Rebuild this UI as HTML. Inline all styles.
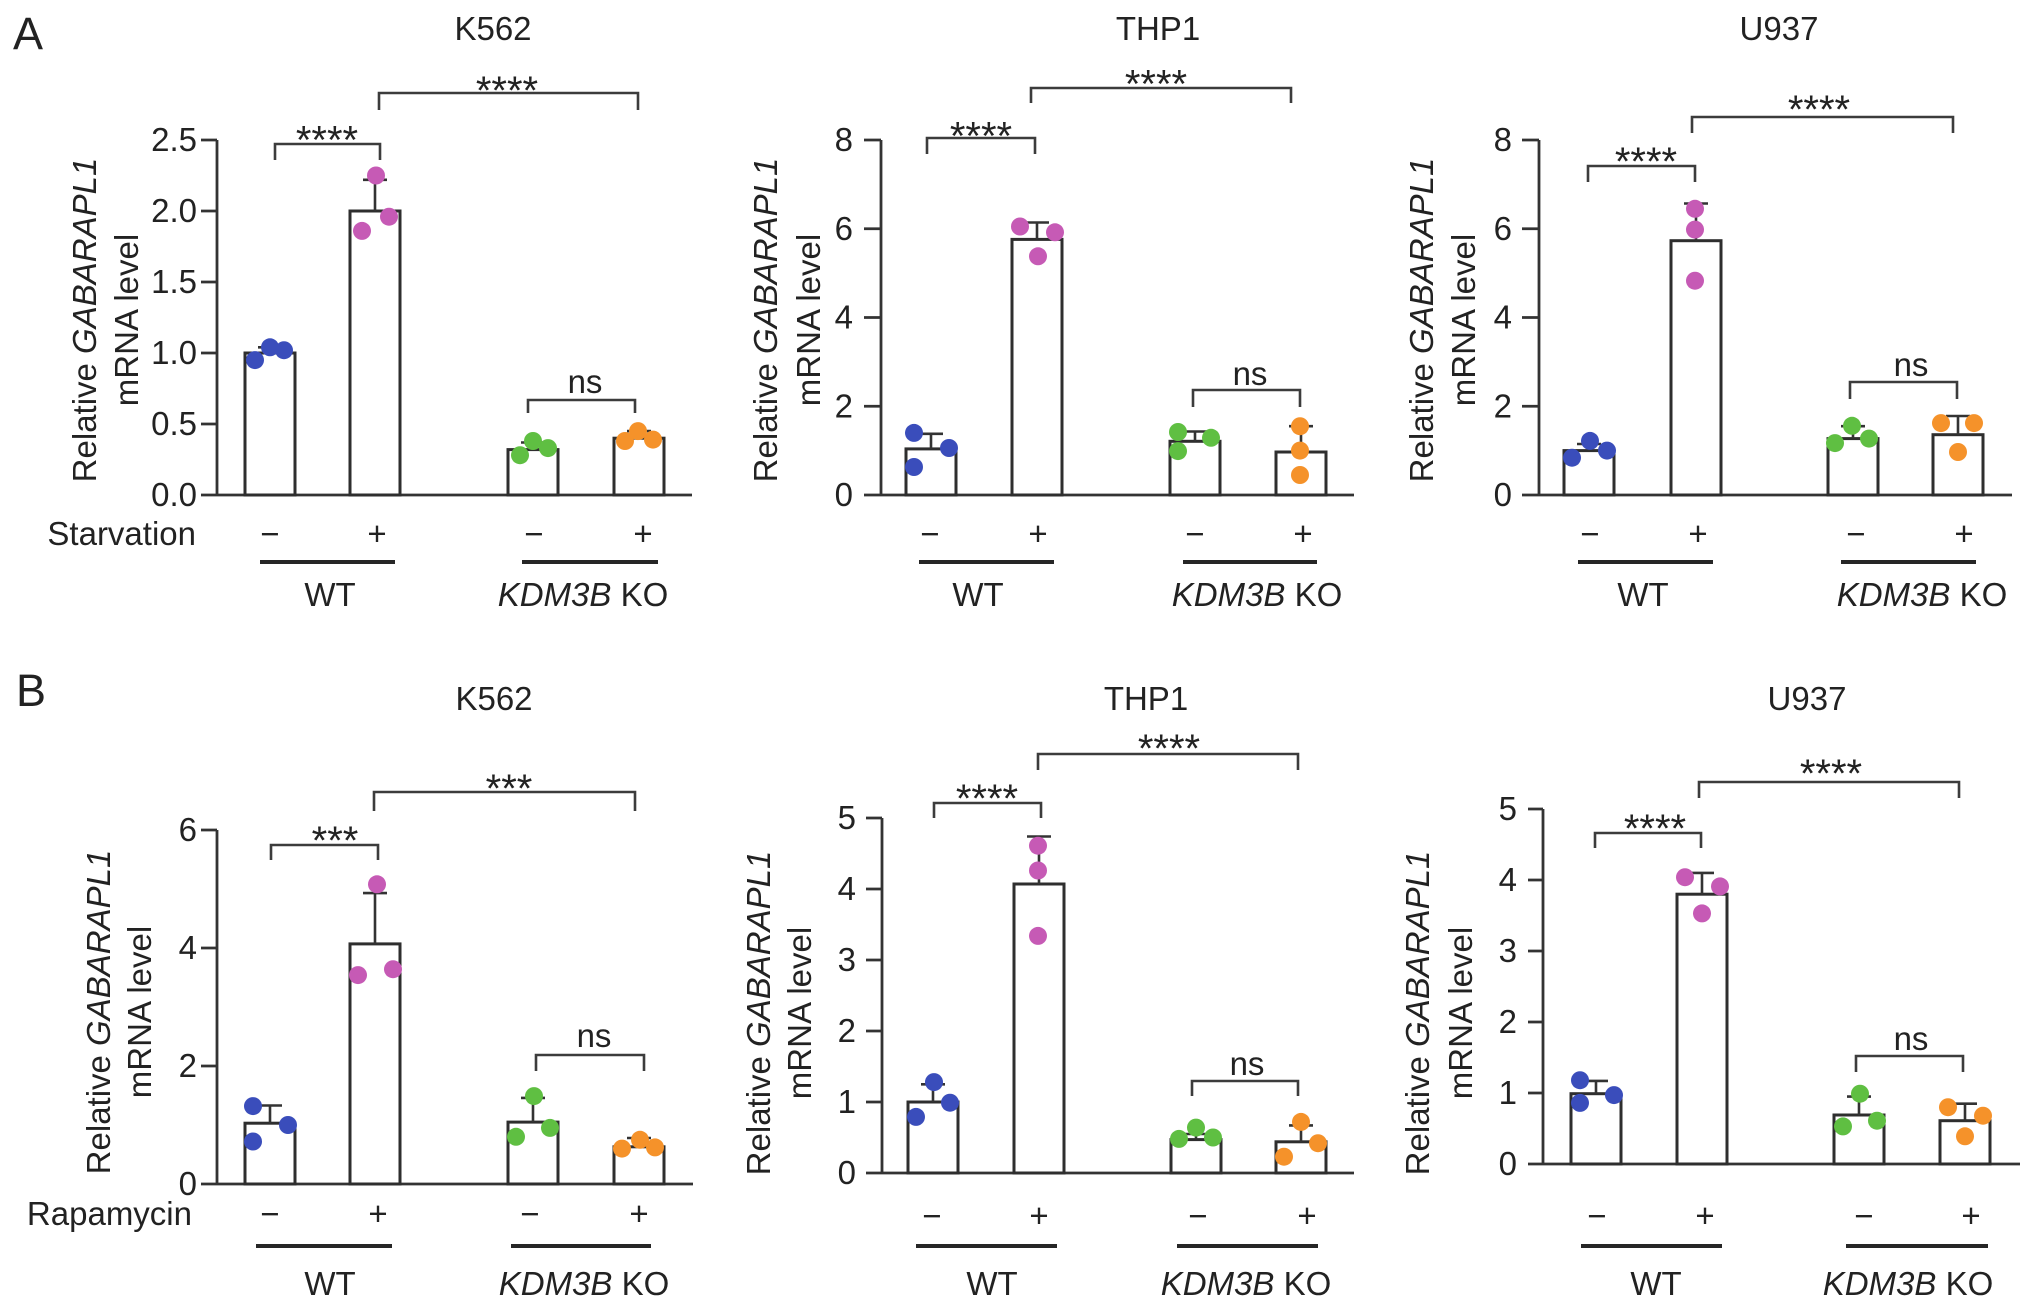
<!DOCTYPE html>
<html><head><meta charset="utf-8"><style>
html,body{margin:0;padding:0;background:#fff;}
svg{display:block;}
text{font-family:"Liberation Sans",Arial,sans-serif;fill:#222;font-size:33px;}
.t{text-anchor:end}
.m{text-anchor:middle}
.st{font-size:40px;text-anchor:middle}
.ax{stroke:#333;stroke-width:2.8;fill:none}
.bar{stroke:#2e2e2e;stroke-width:3;fill:#fff}
.eb{stroke:#333;stroke-width:2.6;fill:none}
.br{stroke:#3c3c3c;stroke-width:2.6;fill:none}
.ul{fill:#262626}
.b{fill:#3a4dbb}.p{fill:#c65ab5}.g{fill:#5fbf42}.o{fill:#f5922a}
</style></head><body>
<svg width="2032" height="1312" viewBox="0 0 2032 1312" xmlns="http://www.w3.org/2000/svg">
<rect width="2032" height="1312" fill="#fff"/>
<text x="13" y="49" style="font-size:45px">A</text>
<text x="16" y="706" style="font-size:45px">B</text>

<!-- ===== A K562 ===== -->
<text class="m" x="493" y="40">K562</text>
<path class="ax" d="M217 140V495M201 495H692M201 140H217M201 211H217M201 282H217M201 353H217M201 424H217"/>
<text class="t" x="197" y="151">2.5</text><text class="t" x="197" y="222">2.0</text><text class="t" x="197" y="293">1.5</text><text class="t" x="197" y="364">1.0</text><text class="t" x="197" y="435">0.5</text><text class="t" x="197" y="506">0.0</text>
<rect class="bar" x="245" y="353" width="50" height="142"/><rect class="bar" x="350" y="211" width="50" height="284"/><rect class="bar" x="508" y="449.6" width="50" height="45.4"/><rect class="bar" x="614" y="438.2" width="50" height="56.8"/>
<path class="eb" d="M270 353V347.3M258 347.3H282M375 211V179.8M363 179.8H387M533 449.6V442.5M521 442.5H545M639 438.2V431.1M627 431.1H651"/>
<circle class="b" cx="255" cy="360.1" r="9"/><circle class="b" cx="270" cy="347.3" r="9"/><circle class="b" cx="284" cy="350.2" r="9"/>
<circle class="p" cx="376" cy="175.5" r="9"/><circle class="p" cx="389" cy="216.7" r="9"/><circle class="p" cx="362" cy="230.9" r="9"/>
<circle class="g" cx="520" cy="455.2" r="9"/><circle class="g" cx="533" cy="441" r="9"/><circle class="g" cx="548" cy="448.1" r="9"/>
<circle class="o" cx="625" cy="441" r="9"/><circle class="o" cx="638" cy="431.1" r="9"/><circle class="o" cx="653" cy="439.6" r="9"/>
<path class="br" d="M275 160V144H380V160M379 110V93H638V110M528 413V400H635V413"/>
<text class="st" x="327" y="153.5">****</text><text class="st" x="507" y="104">****</text><text class="m" x="585" y="393">ns</text>
<text class="t" x="196" y="545">Starvation</text>
<text class="m" x="270" y="545">−</text><text class="m" x="377" y="545">+</text><text class="m" x="534" y="545">−</text><text class="m" x="643" y="545">+</text>
<rect class="ul" x="260" y="560" width="135" height="4"/><rect class="ul" x="522" y="560" width="136" height="4"/>
<text class="m" x="330" y="606">WT</text><text class="m" x="583" y="606"><tspan font-style="italic">KDM3B</tspan> KO</text>
<text class="m" transform="translate(96 320) rotate(-90)">Relative <tspan font-style="italic">GABARAPL1</tspan></text>
<text class="m" transform="translate(138 320) rotate(-90)">mRNA level</text>

<!-- ===== A THP1 ===== -->
<text class="m" x="1158" y="40">THP1</text>
<path class="ax" d="M881 140V495M864 495H1354M864 140H881M864 228.75H881M864 317.5H881M864 406.25H881"/>
<text class="t" x="853" y="151">8</text><text class="t" x="853" y="239.75">6</text><text class="t" x="853" y="328.5">4</text><text class="t" x="853" y="417.25">2</text><text class="t" x="853" y="506">0</text>
<rect class="bar" x="906" y="448.9" width="50" height="46.1"/><rect class="bar" x="1012" y="239.4" width="50" height="255.6"/><rect class="bar" x="1170" y="441.3" width="50" height="53.7"/><rect class="bar" x="1276" y="452" width="50" height="43"/>
<path class="eb" d="M931 448.9V433.8M919 433.8H943M1037 239.4V222.5M1025 222.5H1049M1195 441.3V431.5M1183 431.5H1207M1301 452V426.2M1289 426.2H1313"/>
<circle class="b" cx="914" cy="432.9" r="9"/><circle class="b" cx="949" cy="448" r="9"/><circle class="b" cx="914" cy="467" r="9"/>
<circle class="p" cx="1020" cy="226.5" r="9"/><circle class="p" cx="1055" cy="232.3" r="9"/><circle class="p" cx="1038" cy="256.3" r="9"/>
<circle class="g" cx="1178" cy="432" r="9"/><circle class="g" cx="1211" cy="437.8" r="9"/><circle class="g" cx="1178" cy="451.1" r="9"/>
<circle class="o" cx="1300" cy="426.2" r="9"/><circle class="o" cx="1300" cy="450.6" r="9"/><circle class="o" cx="1300" cy="475" r="9"/>
<path class="br" d="M927 154V138H1035V154M1031 103V88H1291V103M1193 407V390H1300V407"/>
<text class="st" x="981" y="149.5">****</text><text class="st" x="1156" y="97.5">****</text><text class="m" x="1250" y="385">ns</text>
<text class="m" x="930" y="545">−</text><text class="m" x="1038" y="545">+</text><text class="m" x="1195" y="545">−</text><text class="m" x="1303" y="545">+</text>
<rect class="ul" x="919" y="560" width="135" height="4"/><rect class="ul" x="1183" y="560" width="134" height="4"/>
<text class="m" x="978" y="606">WT</text><text class="m" x="1257" y="606"><tspan font-style="italic">KDM3B</tspan> KO</text>
<text class="m" transform="translate(777 320) rotate(-90)">Relative <tspan font-style="italic">GABARAPL1</tspan></text>
<text class="m" transform="translate(820 320) rotate(-90)">mRNA level</text>

<!-- ===== A U937 ===== -->
<text class="m" x="1779" y="40">U937</text>
<path class="ax" d="M1539 140V495M1522 495H2012M1522 140H1539M1522 228.75H1539M1522 317.5H1539M1522 406.25H1539"/>
<text class="t" x="1512" y="151">8</text><text class="t" x="1512" y="239.75">6</text><text class="t" x="1512" y="328.5">4</text><text class="t" x="1512" y="417.25">2</text><text class="t" x="1512" y="506">0</text>
<rect class="bar" x="1564" y="450.6" width="50" height="44.4"/><rect class="bar" x="1671" y="240.7" width="50" height="254.3"/><rect class="bar" x="1828" y="438.6" width="50" height="56.4"/><rect class="bar" x="1933" y="434.7" width="50" height="60.3"/>
<path class="eb" d="M1589 450.6V444M1577 444H1601M1696 240.7V203.5M1684 203.5H1708M1853 438.6V426.2M1841 426.2H1865M1958 434.7V416M1946 416H1970"/>
<circle class="b" cx="1572" cy="457.7" r="9"/><circle class="b" cx="1590" cy="440.9" r="9"/><circle class="b" cx="1607" cy="450.6" r="9"/>
<circle class="p" cx="1695" cy="208.8" r="9"/><circle class="p" cx="1695" cy="229.6" r="9"/><circle class="p" cx="1695" cy="280.7" r="9"/>
<circle class="g" cx="1835" cy="443.1" r="9"/><circle class="g" cx="1852" cy="425.8" r="9"/><circle class="g" cx="1869" cy="438.6" r="9"/>
<circle class="o" cx="1941" cy="423.1" r="9"/><circle class="o" cx="1974" cy="423.1" r="9"/><circle class="o" cx="1958" cy="452" r="9"/>
<path class="br" d="M1588 182V166H1695V182M1692 133V117H1953V133M1850 399V382H1957V399"/>
<text class="st" x="1646" y="175">****</text><text class="st" x="1819" y="123">****</text><text class="m" x="1911" y="376">ns</text>
<text class="m" x="1590" y="545">−</text><text class="m" x="1698" y="545">+</text><text class="m" x="1856" y="545">−</text><text class="m" x="1964" y="545">+</text>
<rect class="ul" x="1578" y="560" width="135" height="4"/><rect class="ul" x="1841" y="560" width="135" height="4"/>
<text class="m" x="1643" y="606">WT</text><text class="m" x="1922" y="606"><tspan font-style="italic">KDM3B</tspan> KO</text>
<text class="m" transform="translate(1433 320) rotate(-90)">Relative <tspan font-style="italic">GABARAPL1</tspan></text>
<text class="m" transform="translate(1475 320) rotate(-90)">mRNA level</text>

<!-- ===== B K562 ===== -->
<text class="m" x="494" y="710">K562</text>
<path class="ax" d="M217 830V1184M201 1184H693M201 830H217M201 948H217M201 1066H217"/>
<text class="t" x="197" y="841">6</text><text class="t" x="197" y="959">4</text><text class="t" x="197" y="1077">2</text><text class="t" x="197" y="1195">0</text>
<rect class="bar" x="245" y="1123.2" width="50" height="60.8"/><rect class="bar" x="350" y="943.9" width="50" height="240.1"/><rect class="bar" x="508" y="1122.1" width="50" height="61.9"/><rect class="bar" x="614" y="1146.8" width="50" height="37.2"/>
<path class="eb" d="M270 1123.2V1105.5M258 1105.5H282M375 943.9V893.1M363 893.1H387M533 1122.1V1097.9M521 1097.9H545M639 1146.8V1138M627 1138H651"/>
<circle class="b" cx="253" cy="1106.1" r="9"/><circle class="b" cx="288" cy="1125" r="9"/><circle class="b" cx="253" cy="1141.5" r="9"/>
<circle class="p" cx="377" cy="884.3" r="9"/><circle class="p" cx="358" cy="975.1" r="9"/><circle class="p" cx="393" cy="969.2" r="9"/>
<circle class="g" cx="534" cy="1096.1" r="9"/><circle class="g" cx="516" cy="1136.8" r="9"/><circle class="g" cx="550" cy="1127.9" r="9"/>
<circle class="o" cx="622" cy="1148.6" r="9"/><circle class="o" cx="640" cy="1139.8" r="9"/><circle class="o" cx="655" cy="1147.4" r="9"/>
<path class="br" d="M271 860V845H378V860M374 811V792H635V811M536 1071V1055H644V1071"/>
<text class="st" x="335" y="854">***</text><text class="st" x="509" y="802">***</text><text class="m" x="594" y="1047">ns</text>
<text class="t" x="192" y="1225">Rapamycin</text>
<text class="m" x="270" y="1225">−</text><text class="m" x="378" y="1225">+</text><text class="m" x="530" y="1225">−</text><text class="m" x="639" y="1225">+</text>
<rect class="ul" x="256" y="1244" width="136" height="4"/><rect class="ul" x="511" y="1244" width="140" height="4"/>
<text class="m" x="330" y="1295">WT</text><text class="m" x="584" y="1295"><tspan font-style="italic">KDM3B</tspan> KO</text>
<text class="m" transform="translate(110 1012) rotate(-90)">Relative <tspan font-style="italic">GABARAPL1</tspan></text>
<text class="m" transform="translate(151 1012) rotate(-90)">mRNA level</text>

<!-- ===== B THP1 ===== -->
<text class="m" x="1146" y="710">THP1</text>
<path class="ax" d="M882 818V1173M866 1173H1354M866 818H882M866 889H882M866 960H882M866 1031H882M866 1102H882"/>
<text class="t" x="856" y="829">5</text><text class="t" x="856" y="900">4</text><text class="t" x="856" y="971">3</text><text class="t" x="856" y="1042">2</text><text class="t" x="856" y="1113">1</text><text class="t" x="856" y="1184">0</text>
<rect class="bar" x="908" y="1102" width="50" height="71"/><rect class="bar" x="1014" y="884" width="50" height="289"/><rect class="bar" x="1171" y="1139.6" width="50" height="33.4"/><rect class="bar" x="1276" y="1141.8" width="50" height="31.2"/>
<path class="eb" d="M933 1102V1084.3M921 1084.3H945M1039 884V836.5M1027 836.5H1051M1196 1139.6V1134M1184 1134H1208M1301 1141.8V1125.4M1289 1125.4H1313"/>
<circle class="b" cx="934" cy="1082.1" r="9"/><circle class="b" cx="950" cy="1102.7" r="9"/><circle class="b" cx="916" cy="1116.9" r="9"/>
<circle class="p" cx="1038" cy="845.7" r="9"/><circle class="p" cx="1038" cy="870.5" r="9"/><circle class="p" cx="1038" cy="935.9" r="9"/>
<circle class="g" cx="1179" cy="1138.9" r="9"/><circle class="g" cx="1196" cy="1127.6" r="9"/><circle class="g" cx="1213" cy="1137.5" r="9"/>
<circle class="o" cx="1301" cy="1121.9" r="9"/><circle class="o" cx="1318" cy="1143.2" r="9"/><circle class="o" cx="1284" cy="1156.7" r="9"/>
<path class="br" d="M934 818V803H1041V818M1038 770V754H1298V770M1192 1096V1081H1298V1096"/>
<text class="st" x="987" y="812">****</text><text class="st" x="1169" y="762">****</text><text class="m" x="1247" y="1075">ns</text>
<text class="m" x="932" y="1227">−</text><text class="m" x="1039" y="1227">+</text><text class="m" x="1198" y="1227">−</text><text class="m" x="1307" y="1227">+</text>
<rect class="ul" x="916" y="1244" width="141" height="4"/><rect class="ul" x="1177" y="1244" width="141" height="4"/>
<text class="m" x="992" y="1295">WT</text><text class="m" x="1246" y="1295"><tspan font-style="italic">KDM3B</tspan> KO</text>
<text class="m" transform="translate(770 1013) rotate(-90)">Relative <tspan font-style="italic">GABARAPL1</tspan></text>
<text class="m" transform="translate(811 1013) rotate(-90)">mRNA level</text>

<!-- ===== B U937 ===== -->
<text class="m" x="1807" y="710">U937</text>
<path class="ax" d="M1543 809V1164M1528 1164H2020M1528 809H1543M1528 880H1543M1528 951H1543M1528 1022H1543M1528 1093H1543"/>
<text class="t" x="1517" y="820">5</text><text class="t" x="1517" y="891">4</text><text class="t" x="1517" y="962">3</text><text class="t" x="1517" y="1033">2</text><text class="t" x="1517" y="1104">1</text><text class="t" x="1517" y="1175">0</text>
<rect class="bar" x="1571" y="1093.7" width="50" height="70.3"/><rect class="bar" x="1677" y="894.2" width="50" height="269.8"/><rect class="bar" x="1834" y="1115" width="50" height="49"/><rect class="bar" x="1940" y="1120.7" width="50" height="43.3"/>
<path class="eb" d="M1596 1093.7V1080.9M1584 1080.9H1608M1702 894.2V872.9M1690 872.9H1714M1859 1115V1096.6M1847 1096.6H1871M1965 1120.7V1103.7M1953 1103.7H1977"/>
<circle class="b" cx="1580" cy="1080.2" r="9"/><circle class="b" cx="1614" cy="1095.1" r="9"/><circle class="b" cx="1580" cy="1102.9" r="9"/>
<circle class="p" cx="1685" cy="877.2" r="9"/><circle class="p" cx="1720" cy="886.4" r="9"/><circle class="p" cx="1702" cy="913.4" r="9"/>
<circle class="g" cx="1860" cy="1093.7" r="9"/><circle class="g" cx="1877" cy="1120.7" r="9"/><circle class="g" cx="1843" cy="1126.4" r="9"/>
<circle class="o" cx="1948" cy="1107.2" r="9"/><circle class="o" cx="1983" cy="1115.7" r="9"/><circle class="o" cx="1965" cy="1136.3" r="9"/>
<path class="br" d="M1595 848V833H1701V848M1699 798V782H1959V798M1856 1072V1056H1963V1072"/>
<text class="st" x="1655" y="842">****</text><text class="st" x="1831" y="787">****</text><text class="m" x="1911" y="1050">ns</text>
<text class="m" x="1597" y="1227">−</text><text class="m" x="1705" y="1227">+</text><text class="m" x="1864" y="1227">−</text><text class="m" x="1971" y="1227">+</text>
<rect class="ul" x="1581" y="1244" width="141" height="4"/><rect class="ul" x="1846" y="1244" width="142" height="4"/>
<text class="m" x="1656" y="1295">WT</text><text class="m" x="1908" y="1295"><tspan font-style="italic">KDM3B</tspan> KO</text>
<text class="m" transform="translate(1429 1013) rotate(-90)">Relative <tspan font-style="italic">GABARAPL1</tspan></text>
<text class="m" transform="translate(1472 1013) rotate(-90)">mRNA level</text>
</svg>
</body></html>
